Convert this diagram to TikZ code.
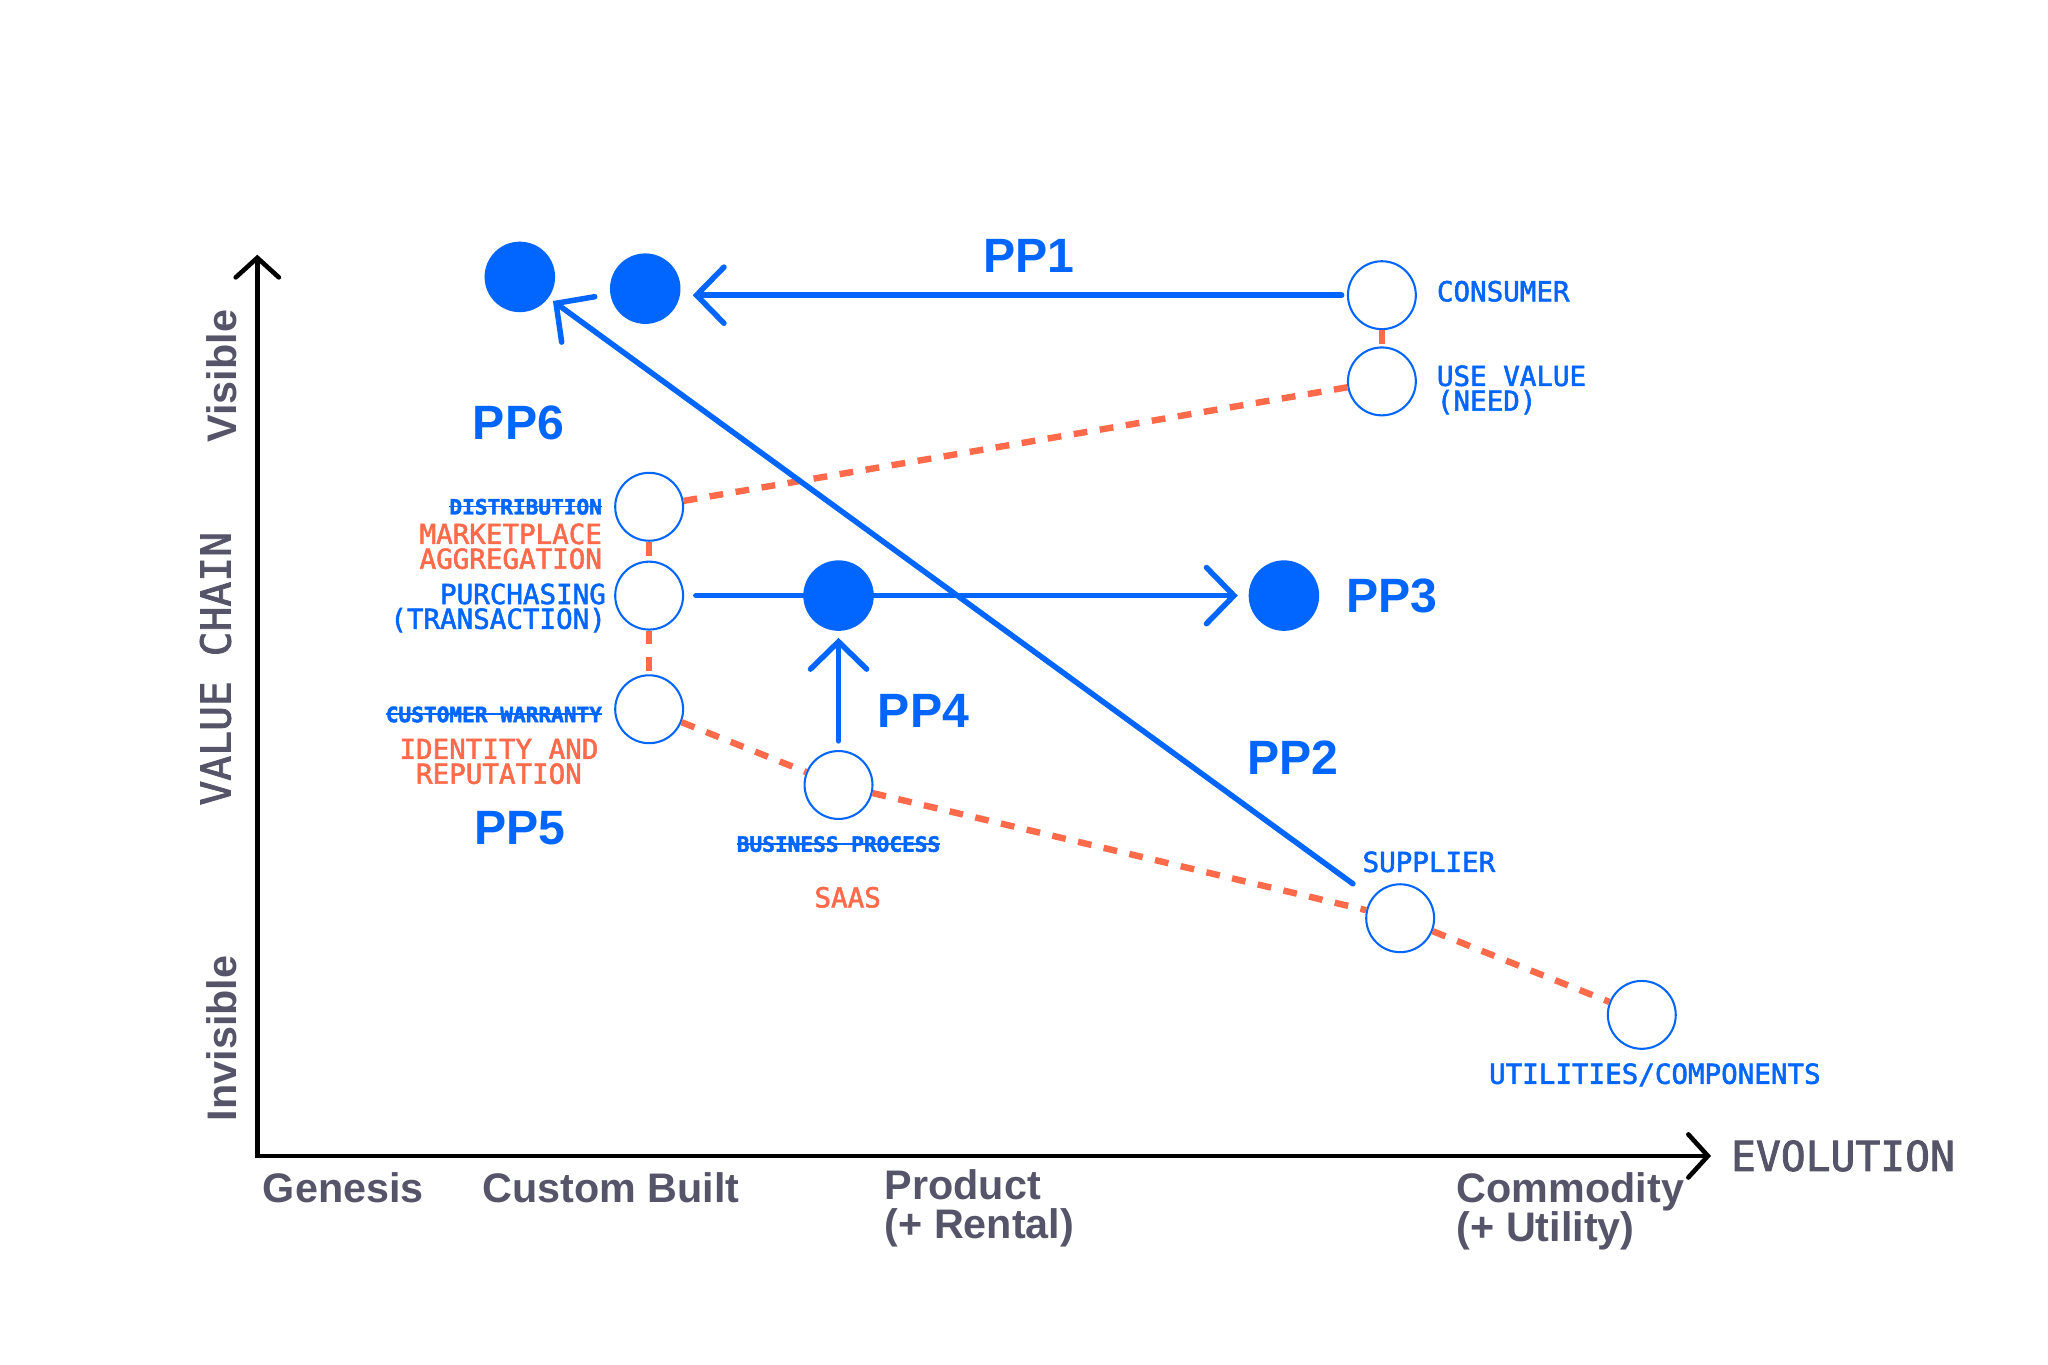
\documentclass[tikz,border=0pt]{standalone}
\usepackage{fontspec}
\setmainfont{Liberation Sans}
\setmonofont{DejaVu Sans Mono}[FakeBold=2]
\usepackage{tikz}
\usetikzlibrary{arrows.meta,positioning}
\definecolor{mapblue}{RGB}{0,102,255}
\definecolor{maporange}{RGB}{255,107,74}
\definecolor{mapgray}{RGB}{86,84,104}
\newlength\strikelen
\newcommand{\strikeout}[1]{\settowidth{\strikelen}{#1}\rlap{\rule[0.34em]{\strikelen}{0.07em}}#1}

\begin{document}
\begin{tikzpicture}[
          x=0.02cm, y=-0.02cm,
          axis/.style={{Straight Barb[length=0.3cm, width=0.66cm, line cap=round]}-{Straight Barb[length=0.3cm, width=0.66cm, line cap=round]}, line width=2pt, black},
          pparrow/.style={-{Straight Barb[length=0.42cm, width=0.86cm, line cap=round]}, line width=2.4pt, mapblue, line cap=round},
          link/.style={maporange, line width=2.8pt, dash pattern=on 6pt off 5.5pt},
          comp/.style={circle, draw=mapblue, line width=0.9pt, fill=white, minimum size=1.04cm, inner sep=0},
          dot/.style={circle, fill=mapblue, minimum size=1.08cm, inner sep=0},
          bluelbl/.style={mapblue, font=\ttfamily\fontsize{12}{10.8}\selectfont, inner sep=0},
          oldlbl/.style={mapblue, font=\ttfamily\bfseries\fontsize{9.2}{10}\selectfont, inner sep=0},
          newlbl/.style={maporange, font=\ttfamily\fontsize{12}{10.8}\selectfont, inner sep=0},
          pplbl/.style={mapblue, font=\bfseries\fontsize{21}{21}\selectfont, inner sep=0},
          stage/.style={mapgray, font=\bfseries\fontsize{18}{17}\selectfont, inner sep=0, align=left},
          axislbl/.style={mapgray, font=\ttfamily\fontsize{18}{18}\selectfont, inner sep=0}
        ]
          \useasboundingbox (0,0) rectangle (1568,1045);

          % axes
          \coordinate (origin) at (197,885);
          \coordinate (ytip) at (197,195);
          \coordinate (xtip) at (1310,885);
          \draw[axis] (ytip) -- (origin) -- (xtip);

          \node[stage, rotate=90] (visible) at (170,288) {Visible};
          \node[stage, rotate=90] (invisible) at (170,795) {Invisible};
          \node[axislbl, rotate=90] (valuechain) at (165,512) {VALUE CHAIN};
          \node[axislbl, right=0.3cm of xtip] (evolution) {EVOLUTION};

          \node[stage, anchor=north west] (genesis) at (201,897) {Genesis};
          \node[stage, anchor=north west] (custom) at (369,897) {Custom Built};
          \node[stage, anchor=north west] (product) at (677,895) {Product\\(+ Rental)};
          \node[stage, anchor=north west] (commodity) at (1115,897) {Commodity\\(+ Utility)};

          % components
          \node[comp] (consumer) at (1058,226) {};
          \node[comp] (usevalue) at (1058,292) {};
          \node[comp] (distribution) at (497,388) {};
          \node[comp] (purchasing) at (497,456) {};
          \node[comp] (warranty) at (497,543) {};
          \node[comp] (business) at (642,601) {};
          \node[comp] (supplier) at (1072,703) {};
          \node[comp] (utilities) at (1257,777) {};

          \draw[link] (consumer) -- (usevalue);
          \draw[link] (usevalue) -- (distribution);
          \draw[link] (distribution) -- (purchasing);
          \draw[link] (purchasing) -- (warranty);
          \draw[link] (warranty) -- (business);
          \draw[link] (business) -- (supplier);
          \draw[link] (supplier) -- (utilities);

          % plays
          \node[dot] (pp6dot) at (398,212) {};
          \node[dot] (pp1dot) at (494,221) {};
          \node[dot] (pp4dot) at (642,456) {};
          \node[dot] (pp3dot) at (983,456) {};

          \draw[pparrow, shorten <=0.08cm, shorten >=0.18cm] (consumer.west) -- (consumer.west -| pp1dot.east);
          \draw[pparrow, shorten <=0.36cm, shorten >=0.08cm] (supplier) -- (pp6dot);
          \draw[pparrow, shorten <=0.18cm, shorten >=0.16cm] (purchasing) -- (pp3dot);
          \draw[pparrow, shorten <=0.14cm, shorten >=0.1cm] (business) -- (pp4dot);

          \node[pplbl] (pp1) at (788,196) {PP1};
          \node[pplbl] (pp6) at (397,324) {PP6};
          \node[pplbl, right=0.4cm of pp3dot] (pp3) {PP3};
          \node[pplbl] (pp4) at (707,544) {PP4};
          \node[pplbl] (pp2) at (990,580) {PP2};
          \node[pplbl] (pp5) at (398,634) {PP5};

          % labels
          \node[bluelbl, right=0.3cm of consumer, yshift=0.06cm] (conlbl) {CONSUMER};
          \node[bluelbl, right=0.3cm of usevalue, yshift=-0.13cm, align=left] (uvlbl) {USE VALUE\\(NEED)};
          \node[oldlbl, left=0.18cm of distribution] (distlbl) {\strikeout{DISTRIBUTION}};
          \node[newlbl, align=right, anchor=north east] (mktlbl) at ([yshift=-0.12cm]distlbl.south east) {MARKETPLACE\\AGGREGATION};
          \node[bluelbl, left=0.12cm of purchasing, yshift=-0.19cm, align=right] (purchlbl) {PURCHASING\\(TRANSACTION)};
          \node[oldlbl, left=0.18cm of warranty, yshift=-0.08cm] (warrlbl) {\strikeout{CUSTOMER WARRANTY}};
          \node[newlbl, align=center] (idlbl) at (382,583) {IDENTITY AND\\REPUTATION};
          \node[oldlbl, below=0.24cm of business] (buslbl) {\strikeout{BUSINESS PROCESS}};
          \node[newlbl, below=0.52cm of buslbl, xshift=0.14cm] (saaslbl) {SAAS};
          \node[bluelbl, above=0.16cm of supplier, xshift=0.44cm] (suplbl) {SUPPLIER};
          \node[bluelbl, below=0.2cm of utilities, xshift=0.2cm] (utillbl) {UTILITIES/COMPONENTS};
        \end{tikzpicture}
\end{document}
